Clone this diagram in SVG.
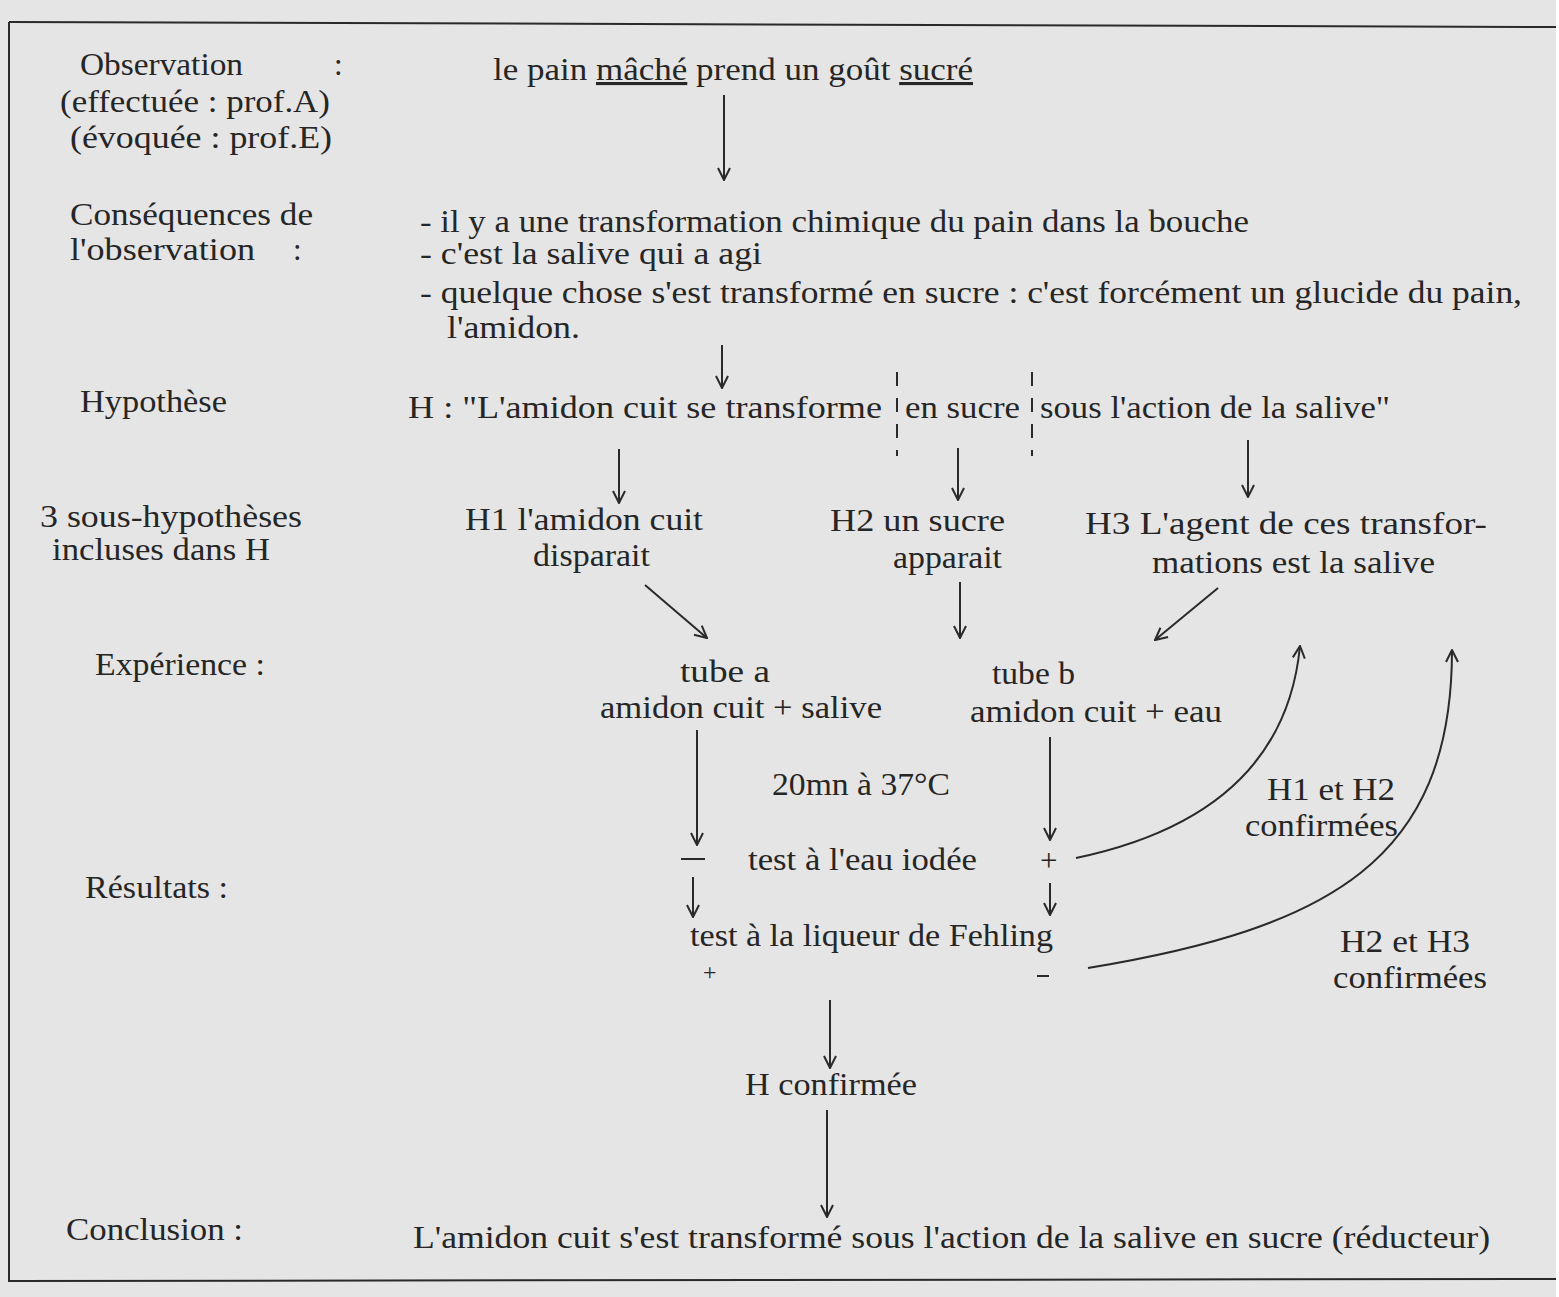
<svg xmlns="http://www.w3.org/2000/svg" width="1559" height="1297" viewBox="0 0 1559 1297">
<defs>
<style>
text{font-family:"Liberation Serif","DejaVu Serif",serif;font-size:31px;fill:#262626}
.u{text-decoration:underline}
.ln{stroke:#2a2a2a;stroke-width:2;fill:none}
.ds{stroke:#2a2a2a;stroke-width:2;fill:none;stroke-dasharray:14 12}
</style>
<marker id="ah" viewBox="0 0 14 14" refX="13" refY="7" markerWidth="14" markerHeight="14" markerUnits="userSpaceOnUse" orient="auto">
<path d="M1,1 L13,7 L1,13" fill="none" stroke="#2a2a2a" stroke-width="2"/>
</marker>
</defs>
<rect x="0" y="0" width="1559" height="1297" fill="#ffffff"/>
<rect x="0" y="0" width="1556" height="1297" fill="#e5e5e5"/>
<g id="frame">
<line class="ln" x1="9" y1="22" x2="1556" y2="27"/>
<line class="ln" x1="9" y1="22" x2="9" y2="1282"/>
<line class="ln" x1="9" y1="1281" x2="1556" y2="1279"/>
</g>
<g id="labels">
<text x="80" y="75" textLength="163" lengthAdjust="spacingAndGlyphs">Observation</text>
<text x="334" y="75">:</text>
<text x="60" y="112" textLength="270" lengthAdjust="spacingAndGlyphs">(effectuée : prof.A)</text>
<text x="70" y="148" textLength="262" lengthAdjust="spacingAndGlyphs">(évoquée : prof.E)</text>
<text x="70" y="225" textLength="243" lengthAdjust="spacingAndGlyphs">Conséquences de</text>
<text x="70" y="260" textLength="185" lengthAdjust="spacingAndGlyphs">l'observation</text>
<text x="293" y="260">:</text>
<text x="80" y="412" textLength="147" lengthAdjust="spacingAndGlyphs">Hypothèse</text>
<text x="40" y="527" textLength="262" lengthAdjust="spacingAndGlyphs">3 sous-hypothèses</text>
<text x="52" y="560" textLength="218" lengthAdjust="spacingAndGlyphs">incluses dans H</text>
<text x="95" y="675" textLength="170" lengthAdjust="spacingAndGlyphs">Expérience :</text>
<text x="85" y="898" textLength="143" lengthAdjust="spacingAndGlyphs">Résultats :</text>
<text x="66" y="1240" textLength="177" lengthAdjust="spacingAndGlyphs">Conclusion :</text>
</g>
<g id="observation">
<text x="493" y="80" textLength="480" lengthAdjust="spacingAndGlyphs">le pain <tspan class="u">mâché</tspan> prend un goût <tspan class="u">sucré</tspan></text>
</g>
<g id="consequences">
<text x="420" y="232" textLength="829" lengthAdjust="spacingAndGlyphs">- il y a une transformation chimique du pain dans la bouche</text>
<text x="420" y="264" textLength="342" lengthAdjust="spacingAndGlyphs">- c'est la salive qui a agi</text>
<text x="420" y="303" textLength="1102" lengthAdjust="spacingAndGlyphs">- quelque chose s'est transformé en sucre : c'est forcément un glucide du pain,</text>
<text x="447" y="338" textLength="133" lengthAdjust="spacingAndGlyphs">l'amidon.</text>
</g>
<g id="hypothese">
<text x="408" y="418" textLength="474" lengthAdjust="spacingAndGlyphs">H :  "L'amidon cuit se transforme</text>
<text x="905" y="418" textLength="115" lengthAdjust="spacingAndGlyphs">en sucre</text>
<text x="1040" y="418" textLength="350" lengthAdjust="spacingAndGlyphs">sous l'action de la salive"</text>
<line class="ds" x1="897" y1="372" x2="897" y2="456"/>
<line class="ds" x1="1032" y1="372" x2="1032" y2="456"/>
</g>
<g id="h1">
<text x="465" y="530" textLength="238" lengthAdjust="spacingAndGlyphs">H1 l'amidon cuit</text>
<text x="533" y="566" textLength="117" lengthAdjust="spacingAndGlyphs">disparait</text>
</g>
<g id="h2">
<text x="830" y="531" textLength="175" lengthAdjust="spacingAndGlyphs">H2  un sucre</text>
<text x="893" y="568" textLength="109" lengthAdjust="spacingAndGlyphs">apparait</text>
</g>
<g id="h3">
<text x="1085" y="534" textLength="402" lengthAdjust="spacingAndGlyphs">H3  L'agent de ces transfor-</text>
<text x="1152" y="573" textLength="283" lengthAdjust="spacingAndGlyphs">mations est la salive</text>
</g>
<g id="tube-a">
<text x="680" y="682" textLength="90" lengthAdjust="spacingAndGlyphs">tube a</text>
<text x="600" y="718" textLength="282" lengthAdjust="spacingAndGlyphs">amidon cuit + salive</text>
</g>
<g id="tube-b">
<text x="992" y="684" textLength="83" lengthAdjust="spacingAndGlyphs">tube b</text>
<text x="970" y="722" textLength="252" lengthAdjust="spacingAndGlyphs">amidon cuit + eau</text>
</g>
<g id="incubation">
<text x="772" y="795" textLength="178" lengthAdjust="spacingAndGlyphs">20mn à 37°C</text>
</g>
<g id="test-iode">
<line class="ln" x1="681" y1="859" x2="705" y2="859"/>
<text x="748" y="870" textLength="229" lengthAdjust="spacingAndGlyphs">test à l'eau iodée</text>
<text x="1040" y="871">+</text>
</g>
<g id="test-fehling">
<text x="690" y="946" textLength="363" lengthAdjust="spacingAndGlyphs">test à la liqueur de Fehling</text>
<text x="703" y="980" style="font-size:24px">+</text>
<line class="ln" x1="1037" y1="976" x2="1049" y2="976"/>
</g>
<g id="h1-h2-confirmees">
<text x="1267" y="800" textLength="128" lengthAdjust="spacingAndGlyphs">H1 et H2</text>
<text x="1245" y="836" textLength="153" lengthAdjust="spacingAndGlyphs">confirmées</text>
</g>
<g id="h2-h3-confirmees">
<text x="1340" y="952" textLength="130" lengthAdjust="spacingAndGlyphs">H2 et H3</text>
<text x="1333" y="988" textLength="154" lengthAdjust="spacingAndGlyphs">confirmées</text>
</g>
<g id="h-confirmee">
<text x="745" y="1095" textLength="172" lengthAdjust="spacingAndGlyphs">H confirmée</text>
</g>
<g id="conclusion">
<text x="413" y="1248" textLength="1077" lengthAdjust="spacingAndGlyphs">L'amidon cuit s'est transformé sous l'action de la salive en sucre (réducteur)</text>
</g>
<g id="connectors">
<line class="ln" marker-end="url(#ah)" x1="724" y1="95" x2="724" y2="180"/>
<line class="ln" marker-end="url(#ah)" x1="722" y1="345" x2="722" y2="388"/>
<line class="ln" marker-end="url(#ah)" x1="619" y1="449" x2="619" y2="503"/>
<line class="ln" marker-end="url(#ah)" x1="958" y1="448" x2="958" y2="500"/>
<line class="ln" marker-end="url(#ah)" x1="1248" y1="440" x2="1248" y2="497"/>
<line class="ln" marker-end="url(#ah)" x1="645" y1="585" x2="707" y2="638"/>
<line class="ln" marker-end="url(#ah)" x1="960" y1="582" x2="960" y2="638"/>
<line class="ln" marker-end="url(#ah)" x1="1218" y1="588" x2="1155" y2="640"/>
<line class="ln" marker-end="url(#ah)" x1="697" y1="730" x2="697" y2="845"/>
<line class="ln" marker-end="url(#ah)" x1="1050" y1="737" x2="1050" y2="840"/>
<line class="ln" marker-end="url(#ah)" x1="693" y1="877" x2="693" y2="917"/>
<line class="ln" marker-end="url(#ah)" x1="1050" y1="883" x2="1050" y2="915"/>
<line class="ln" marker-end="url(#ah)" x1="830" y1="1000" x2="830" y2="1068"/>
<line class="ln" marker-end="url(#ah)" x1="827" y1="1110" x2="827" y2="1217"/>
<path class="ln" marker-end="url(#ah)" d="M1076,858 C1200,832 1288,770 1300,646"/>
<path class="ln" marker-end="url(#ah)" d="M1088,968 C1330,928 1452,860 1452,650"/>
</g>
</svg>
